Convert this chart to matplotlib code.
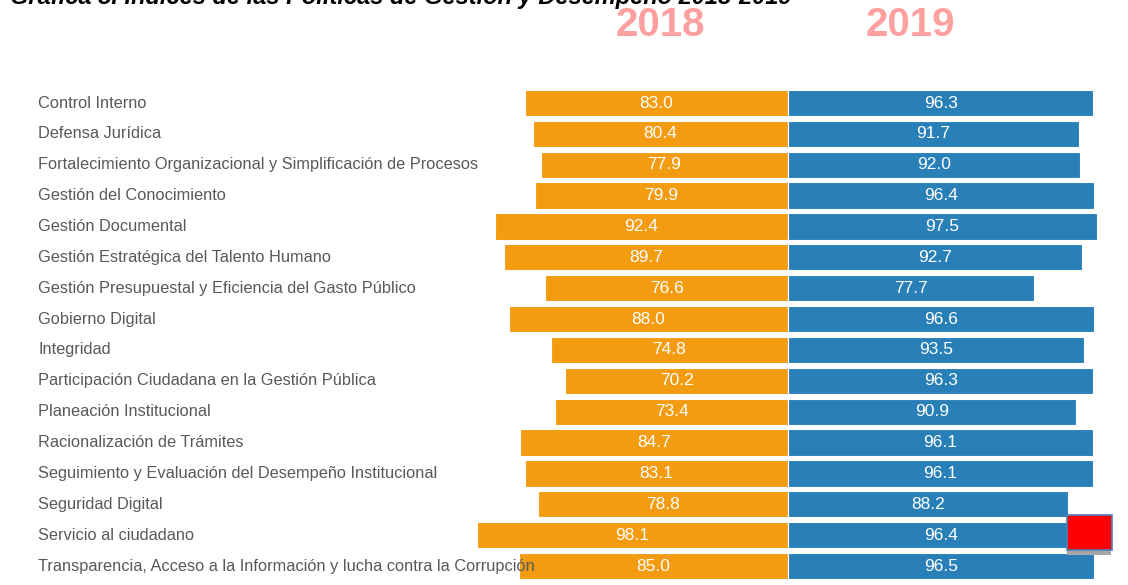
import matplotlib
matplotlib.use("Agg")
import matplotlib.pyplot as plt
from matplotlib.patches import Rectangle

categories = [
    "Control Interno",
    "Defensa Jurídica",
    "Fortalecimiento Organizacional y Simplificación de Procesos",
    "Gestión del Conocimiento",
    "Gestión Documental",
    "Gestión Estratégica del Talento Humano",
    "Gestión Presupuestal y Eficiencia del Gasto Público",
    "Gobierno Digital",
    "Integridad",
    "Participación Ciudadana en la Gestión Pública",
    "Planeación Institucional",
    "Racionalización de Trámites",
    "Seguimiento y Evaluación del Desempeño Institucional",
    "Seguridad Digital",
    "Servicio al ciudadano",
    "Transparencia, Acceso a la Información y lucha contra la Corrupción",
]
values_2018 = [83.0, 80.4, 77.9, 79.9, 92.4, 89.7, 76.6, 88.0, 74.8, 70.2, 73.4, 84.7, 83.1, 78.8, 98.1, 85.0]
values_2019 = [96.3, 91.7, 92.0, 96.4, 97.5, 92.7, 77.7, 96.6, 93.5, 96.3, 90.9, 96.1, 96.1, 88.2, 96.4, 96.5]
year_labels = ["2018", "2019"]
title = "Gráfica 8. Índices de las Políticas de Gestión y Desempeño 2018-2019"

W, H = 1128, 585
fig = plt.figure(figsize=(W / 100, H / 100), dpi=100)
ax = fig.add_axes([0, 0, 1, 1])

center_px = 788
px_per_unit = 3.17
row0_px = 103
row_px = 30.87

ax.set_xlim(-center_px / px_per_unit, (W - center_px) / px_per_unit)
ax.set_ylim((H - row0_px) / row_px, -row0_px / row_px)
ax.axis("off")

orange = "#F39C12"
blue = "#2980B9"
ypos = list(range(len(categories)))

b1 = ax.barh(ypos, [-v for v in values_2018], height=0.85, color=orange,
             edgecolor="white", linewidth=0.8, zorder=2)
b2 = ax.barh(ypos, values_2019, height=0.85, color=blue,
             edgecolor="white", linewidth=0.8, zorder=2)

lab_font = dict(family="Liberation Sans", size=12.5, color="white")
ax.bar_label(b1, labels=[f"{v:.1f}" for v in values_2018], label_type="center", **lab_font, zorder=4)
ax.bar_label(b2, labels=[f"{v:.1f}" for v in values_2019], label_type="center", **lab_font, zorder=4)

for i, c in enumerate(categories):
    ax.text(38 / W, i, c, transform=ax.get_yaxis_transform(), ha="left", va="center",
            family="Liberation Sans", fontsize=11.8, color="#595959", zorder=5)

# Year headers
for lbl, xpx in zip(year_labels, [660, 910]):
    fig.text(xpx / W, 1 - 25 / H, lbl, ha="center", va="center",
             family="Liberation Sans", fontweight="bold",
             fontsize=29, color="#FFA0A0")

# Title (cut at top of image)
fig.text(10 / W, 1 - 4 / H, title, ha="left", va="baseline",
         family="Liberation Sans", fontweight="bold", fontstyle="italic",
         fontsize=17, color="black")

# Red square marker with shadow
fig.add_artist(Rectangle((1067 / W, 1 - 555 / H), 44 / W, 5 / H,
                         transform=fig.transFigure, facecolor="#A6A6A6", edgecolor="none", zorder=6))
fig.add_artist(Rectangle((1067 / W, 1 - 550 / H), 45 / W, 35 / H,
                         transform=fig.transFigure, facecolor="#FF0000", edgecolor="#4F81BD",
                         linewidth=1.2, zorder=7))

fig.savefig("out.png", dpi=100)
